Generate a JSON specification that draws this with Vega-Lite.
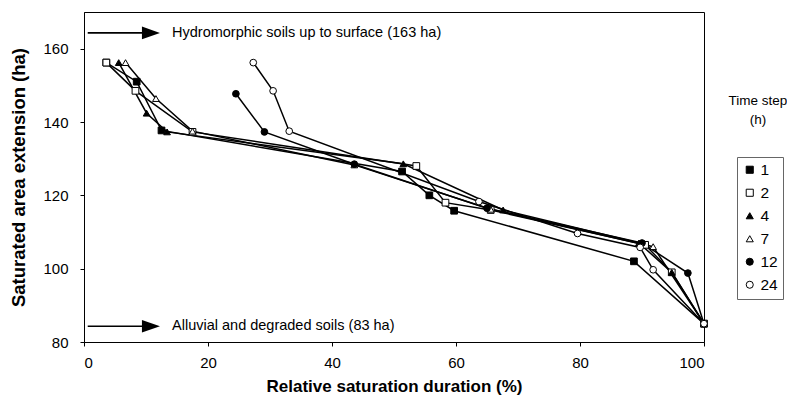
{
  "$schema": "https://vega.github.io/schema/vega-lite/v6.json",
  "width": 620,
  "height": 330,
  "autosize": {"type": "none"},
  "padding": {"left": 84, "top": 12, "right": 83, "bottom": 65},
  "background": "white",
  "config": {
    "view": {"stroke": "black", "strokeWidth": 1},
    "font": "Liberation Sans",
    "axis": {"grid": false, "domainColor": "black", "tickColor": "black", "labelColor": "black", "titleColor": "black", "tickSize": 4, "labelFontSize": 15, "titleFontWeight": "bold"}
  },
  "datasets": {
    "pts": [
      {"s": "1", "i": 0, "x": 3.6, "y": 156.2}, {"s": "1", "i": 1, "x": 8.5, "y": 151}, {"s": "1", "i": 2, "x": 12.5, "y": 137.7}, {"s": "1", "i": 3, "x": 51.3, "y": 126.5}, {"s": "1", "i": 4, "x": 55.7, "y": 120}, {"s": "1", "i": 5, "x": 59.7, "y": 115.8}, {"s": "1", "i": 6, "x": 88.7, "y": 102}, {"s": "1", "i": 7, "x": 100, "y": 85},
      {"s": "2", "i": 0, "x": 3.6, "y": 156.2}, {"s": "2", "i": 1, "x": 8.3, "y": 148.5}, {"s": "2", "i": 2, "x": 17.5, "y": 137.3}, {"s": "2", "i": 3, "x": 53.6, "y": 128}, {"s": "2", "i": 4, "x": 58.3, "y": 118}, {"s": "2", "i": 5, "x": 65.6, "y": 116}, {"s": "2", "i": 6, "x": 90.5, "y": 106.5}, {"s": "2", "i": 7, "x": 94.8, "y": 99}, {"s": "2", "i": 8, "x": 100, "y": 85},
      {"s": "4", "i": 0, "x": 5.6, "y": 156.2}, {"s": "4", "i": 1, "x": 10.1, "y": 142.4}, {"s": "4", "i": 2, "x": 13.4, "y": 137.3}, {"s": "4", "i": 3, "x": 51.5, "y": 128.6}, {"s": "4", "i": 4, "x": 67.6, "y": 116}, {"s": "4", "i": 5, "x": 89.5, "y": 107}, {"s": "4", "i": 6, "x": 94.8, "y": 99}, {"s": "4", "i": 7, "x": 100, "y": 85},
      {"s": "7", "i": 0, "x": 6.7, "y": 156.2}, {"s": "7", "i": 1, "x": 11.6, "y": 146.4}, {"s": "7", "i": 2, "x": 17.5, "y": 137.5}, {"s": "7", "i": 3, "x": 43.6, "y": 128.3}, {"s": "7", "i": 4, "x": 65.6, "y": 116.2}, {"s": "7", "i": 5, "x": 91.8, "y": 106}, {"s": "7", "i": 6, "x": 100, "y": 85},
      {"s": "12", "i": 0, "x": 24.5, "y": 147.7}, {"s": "12", "i": 1, "x": 29.1, "y": 137.3}, {"s": "12", "i": 2, "x": 43.6, "y": 128.5}, {"s": "12", "i": 3, "x": 65, "y": 116.5}, {"s": "12", "i": 4, "x": 90, "y": 107}, {"s": "12", "i": 5, "x": 97.4, "y": 98.8}, {"s": "12", "i": 6, "x": 100, "y": 85},
      {"s": "24", "i": 0, "x": 27.3, "y": 156.2}, {"s": "24", "i": 1, "x": 30.5, "y": 148.5}, {"s": "24", "i": 2, "x": 33.1, "y": 137.5}, {"s": "24", "i": 3, "x": 63.7, "y": 118.3}, {"s": "24", "i": 4, "x": 79.6, "y": 109.6}, {"s": "24", "i": 5, "x": 89.7, "y": 105.8}, {"s": "24", "i": 6, "x": 91.8, "y": 99.7}, {"s": "24", "i": 7, "x": 100, "y": 85}
    ],
    "arrows": [
      {"x": 0.6, "x2": 10.8, "y": 164.3, "label": "Hydromorphic soils up to surface (163 ha)", "tx": 14.2},
      {"x": 0.6, "x2": 10.8, "y": 84.3, "label": "Alluvial and degraded soils (83 ha)", "tx": 14.2}
    ],
    "ltitle": [
      {"x": 108.7, "y": 145.6, "t": "Time step"},
      {"x": 108.7, "y": 140.6, "t": "(h)"}
    ]
  },
  "layer": [
    {
      "data": {"name": "pts"},
      "mark": {"type": "line", "strokeWidth": 1.5},
      "encoding": {
        "x": {"field": "x", "type": "quantitative", "scale": {"domain": [0, 100]},
          "axis": {"values": [0, 20, 40, 60, 80, 100], "labelPadding": 9, "title": "Relative saturation duration (%)", "titleFontSize": 17, "titlePadding": 8}},
        "y": {"field": "y", "type": "quantitative", "scale": {"domain": [80, 170]},
          "axis": {"values": [80, 100, 120, 140, 160], "labelPadding": 12, "title": "Saturated area extension (ha)", "titleFontSize": 18.5, "titlePadding": 14}},
        "color": {"field": "s", "type": "nominal", "scale": {"domain": ["1", "2", "4", "7", "12", "24"], "range": ["black", "black", "black", "black", "black", "black"]},
          "legend": {"title": null, "orient": "none", "legendX": 653, "legendY": 145, "padding": 5, "rowPadding": 6, "symbolSize": 441, "symbolStrokeWidth": 1, "labelFontSize": 15.5, "labelColor": "black", "labelOffset": 3, "strokeColor": "#666",
            "encode": {"symbols": {"update": {"size": {"value": 50}, "strokeWidth": {"value": 1}, "opacity": {"value": 1}}}}}},
        "order": {"field": "i"}
      }
    },
    {
      "data": {"name": "pts"},
      "mark": {"type": "point", "filled": false, "color": "black", "strokeWidth": 1, "size": 45, "opacity": 1},
      "encoding": {
        "x": {"field": "x", "type": "quantitative"},
        "y": {"field": "y", "type": "quantitative"},
        "shape": {"field": "s", "type": "nominal", "scale": {"domain": ["1", "2", "4", "7", "12", "24"], "range": ["square", "square", "triangle-up", "triangle-up", "circle", "circle"]},
          "legend": {"title": null, "orient": "none", "legendX": 653, "legendY": 145, "padding": 5, "rowPadding": 6, "symbolSize": 441, "symbolStrokeColor": "black", "symbolStrokeWidth": 1, "labelFontSize": 15.5, "labelColor": "black", "labelOffset": 3, "strokeColor": "#666",
            "encode": {"symbols": {"update": {"size": {"value": 50}, "strokeWidth": {"value": 1}, "opacity": {"value": 1}}}}}},
        "fill": {"field": "s", "type": "nominal", "scale": {"domain": ["1", "2", "4", "7", "12", "24"], "range": ["black", "white", "black", "white", "black", "white"]},
          "legend": {"title": null, "orient": "none", "legendX": 653, "legendY": 145, "padding": 5, "rowPadding": 6, "symbolSize": 441, "symbolStrokeColor": "black", "symbolStrokeWidth": 1, "labelFontSize": 15.5, "labelColor": "black", "labelOffset": 3, "strokeColor": "#666",
            "encode": {"symbols": {"update": {"size": {"value": 50}, "strokeWidth": {"value": 1}, "opacity": {"value": 1}}}}}}
      }
    },
    {
      "data": {"name": "arrows"},
      "mark": {"type": "rule", "color": "black", "strokeWidth": 1.6},
      "encoding": {
        "x": {"field": "x", "type": "quantitative"},
        "x2": {"field": "x2"},
        "y": {"field": "y", "type": "quantitative"}
      }
    },
    {
      "data": {"name": "arrows"},
      "mark": {"type": "point", "shape": "M-1,-0.7L1,0L-1,0.7Z", "size": 324, "filled": true, "fill": "black", "opacity": 1},
      "encoding": {
        "x": {"field": "x2", "type": "quantitative"},
        "y": {"field": "y", "type": "quantitative"}
      }
    },
    {
      "data": {"name": "arrows"},
      "mark": {"type": "text", "align": "left", "baseline": "middle", "fontSize": 14.5, "color": "black"},
      "encoding": {
        "x": {"field": "tx", "type": "quantitative"},
        "y": {"field": "y", "type": "quantitative"},
        "text": {"field": "label"}
      }
    },
    {
      "data": {"name": "ltitle"},
      "mark": {"type": "text", "align": "center", "baseline": "middle", "fontSize": 13.5, "color": "black"},
      "encoding": {
        "x": {"field": "x", "type": "quantitative"},
        "y": {"field": "y", "type": "quantitative"},
        "text": {"field": "t"}
      }
    }
  ]
}
